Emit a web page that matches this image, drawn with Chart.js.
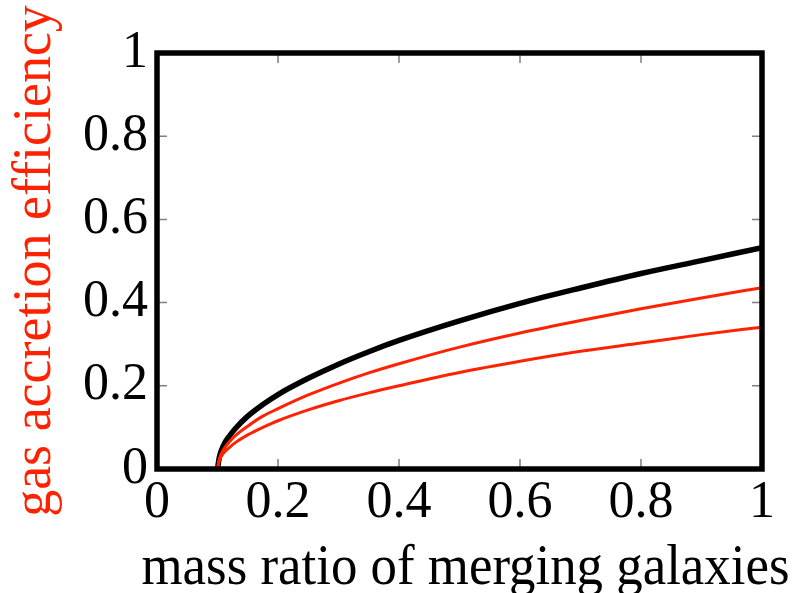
<!DOCTYPE html>
<html>
<head>
<meta charset="utf-8">
<script src="https://cdn.jsdelivr.net/npm/chart.js@4.4.0/dist/chart.umd.min.js"></script>
<style>
  html, body { margin: 0; padding: 0; background: #ffffff; }
  #wrap { width: 808px; height: 593px; }
</style>
</head>
<body>
<div id="wrap"><canvas id="chart" width="808" height="593"></canvas></div>
<script>
// Mass ratio of the merging pair (x) and the resulting gas accretion efficiency (y)
const massRatio = [0.1, 0.103, 0.11, 0.12, 0.13, 0.15, 0.175, 0.2, 0.25, 0.3, 0.35, 0.4, 0.5, 0.6, 0.7, 0.8, 0.9, 1.0];
const efficiencyTotal = [0, 0.028, 0.057, 0.080, 0.098, 0.127, 0.155, 0.179, 0.218, 0.252, 0.282, 0.309, 0.356, 0.398, 0.435, 0.470, 0.501, 0.532];
const efficiencyUpper = [0, 0.024, 0.047, 0.066, 0.081, 0.103, 0.127, 0.145, 0.178, 0.206, 0.231, 0.253, 0.293, 0.327, 0.357, 0.385, 0.411, 0.436];
const efficiencyLower = [0, 0.021, 0.038, 0.052, 0.064, 0.082, 0.100, 0.116, 0.142, 0.164, 0.183, 0.200, 0.232, 0.259, 0.283, 0.303, 0.323, 0.341];

const tickValues = [0, 0.2, 0.4, 0.6, 0.8, 1];
const tickLabels = ['0', '0.2', '0.4', '0.6', '0.8', '1'];

const xTitle = 'mass ratio of merging galaxies';
const yTitle = 'gas accretion efficiency';

const RED = '#ff2200';
const SERIF = '"Liberation Serif", "Times New Roman", serif';

function toPoints(ys) {
  return massRatio.map((x, i) => ({ x: x, y: ys[i] }));
}

function fixedTicks(scale) {
  scale.ticks = tickValues.map(v => ({ value: v }));
}

function labelFor(value) {
  const i = tickValues.findIndex(v => Math.abs(v - value) < 1e-9);
  return i >= 0 ? tickLabels[i] : '';
}

// Thick box around the plot with short grey ticks pointing inward on all four sides
const framePlugin = {
  id: 'frame',
  afterDatasetsDraw(chart) {
    const { ctx, chartArea: a, scales } = chart;
    const xs = scales.x, ys = scales.y;
    const len = 10;
    ctx.save();
    ctx.strokeStyle = '#808080';
    ctx.lineWidth = 1.5;
    ctx.beginPath();
    tickValues.forEach(v => {
      const px = xs.getPixelForValue(v);
      ctx.moveTo(px, a.bottom); ctx.lineTo(px, a.bottom - len);
      ctx.moveTo(px, a.top); ctx.lineTo(px, a.top + len);
      const py = ys.getPixelForValue(v);
      ctx.moveTo(a.left, py); ctx.lineTo(a.left + len, py);
      ctx.moveTo(a.right, py); ctx.lineTo(a.right - len, py);
    });
    ctx.stroke();
    ctx.strokeStyle = '#000000';
    ctx.lineWidth = 5.5;
    ctx.lineJoin = 'miter';
    ctx.strokeRect(a.left, a.top, a.right - a.left, a.bottom - a.top);
    ctx.restore();
  }
};

// Horizontal axis caption, a little wider than the plot box itself
const xCaptionPlugin = {
  id: 'xCaption',
  afterDraw(chart) {
    const { ctx, chartArea: a } = chart;
    ctx.save();
    ctx.font = '58px ' + SERIF;
    ctx.fillStyle = '#000000';
    ctx.textAlign = 'center';
    ctx.textBaseline = 'alphabetic';
    ctx.fillText(xTitle, (a.left + a.right) / 2 + 6, 584, 648);
    ctx.restore();
  }
};

const lineStyle = {
  fill: false,
  pointRadius: 0,
  pointHoverRadius: 0,
  cubicInterpolationMode: 'monotone',
  borderCapStyle: 'butt'
};

new Chart(document.getElementById('chart'), {
  type: 'line',
  data: {
    datasets: [
      Object.assign({ label: 'lower', data: toPoints(efficiencyLower), borderColor: RED, borderWidth: 3 }, lineStyle),
      Object.assign({ label: 'upper', data: toPoints(efficiencyUpper), borderColor: RED, borderWidth: 3 }, lineStyle),
      Object.assign({ label: 'total', data: toPoints(efficiencyTotal), borderColor: '#000000', borderWidth: 5.5 }, lineStyle)
    ]
  },
  options: {
    responsive: false,
    animation: false,
    devicePixelRatio: 1,
    layout: { padding: { left: 0, top: 53, right: 46, bottom: 0 } },
    plugins: {
      legend: { display: false },
      tooltip: { enabled: false }
    },
    scales: {
      x: {
        type: 'linear',
        min: 0,
        max: 1,
        afterBuildTicks: fixedTicks,
        afterFit(scale) { scale.height = 124; },
        grid: { display: false, drawTicks: false },
        border: { display: false },
        ticks: {
          color: '#000000',
          padding: 3,
          maxRotation: 0,
          autoSkip: false,
          font: { family: SERIF, size: 52 },
          callback: labelFor
        },
        title: { display: false }
      },
      y: {
        type: 'linear',
        min: 0,
        max: 1,
        afterBuildTicks: fixedTicks,
        afterFit(scale) { scale.width = 157; },
        grid: { display: false, drawTicks: false },
        border: { display: false },
        ticks: {
          color: '#000000',
          padding: 9,
          autoSkip: false,
          font: { family: SERIF, size: 52 },
          callback: labelFor
        },
        title: {
          display: true,
          text: yTitle,
          color: RED,
          font: { family: SERIF, size: 54, lineHeight: 1 },
          padding: { top: 9, bottom: 0 }
        }
      }
    }
  },
  plugins: [framePlugin, xCaptionPlugin]
});
</script>
</body>
</html>
